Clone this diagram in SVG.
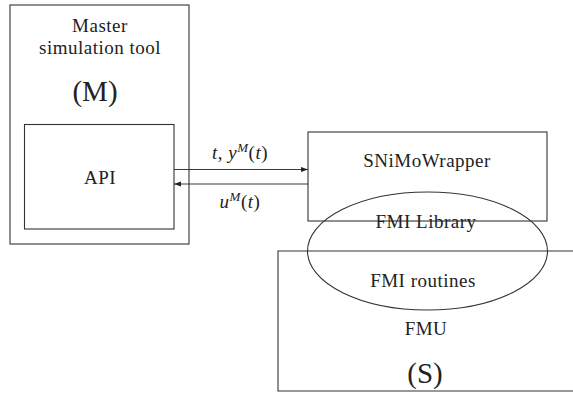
<svg xmlns="http://www.w3.org/2000/svg" width="573" height="401" viewBox="0 0 573 401">
<style>
.box{fill:none;stroke:#333;stroke-width:1.1}
.t{font-family:"Liberation Serif","Times New Roman",serif;font-size:19px;letter-spacing:0.5px;fill:#222;text-anchor:middle}
.big{font-size:29px;letter-spacing:0}
.i{font-style:italic}
.conn{stroke:#222;stroke-width:0.9;fill:none}
</style>
<defs>
<marker id="ah" markerWidth="8" markerHeight="6" refX="7" refY="3" orient="auto" markerUnits="userSpaceOnUse">
<path d="M0,0.5 L7,3 L0,5.5 Z" fill="#222"/>
</marker>
</defs>
<g id="master">
<rect class="box" x="10" y="5" width="179" height="239"/>
<text class="t" x="100" y="32">Master</text>
<text class="t" x="100" y="54">simulation tool</text>
<text class="t big" x="95" y="101">(M)</text>
</g>
<g id="api">
<rect class="box" x="24.5" y="124.5" width="149.5" height="104.5"/>
<text class="t" x="100" y="184">API</text>
</g>
<g id="fmu">
<path class="box" d="M573,251 H278 V391 H573"/>
<text class="t" x="426" y="335">FMU</text>
<text class="t big" x="425" y="383">(S)</text>
</g>
<g id="wrapper">
<rect class="box" x="308" y="132" width="239" height="89"/>
<text class="t" x="427" y="167">SNiMoWrapper</text>
</g>
<g id="fmilib">
<ellipse class="box" cx="427.5" cy="251" rx="120" ry="59"/>
<text class="t" x="426" y="228">FMI Library</text>
<text class="t" x="423" y="287">FMI routines</text>
</g>
<g id="connectors">
<line class="conn" x1="174" y1="169.5" x2="308" y2="169.5" marker-end="url(#ah)"/>
<line class="conn" x1="308" y1="184" x2="174" y2="184" marker-end="url(#ah)"/>
<text class="t" x="240" y="159"><tspan class="i">t</tspan>, <tspan class="i">y</tspan><tspan class="i" font-size="13" dy="-7">M</tspan><tspan dy="7">(</tspan><tspan class="i">t</tspan>)</text>
<text class="t" x="240" y="208"><tspan class="i">u</tspan><tspan class="i" font-size="13" dy="-7">M</tspan><tspan dy="7">(</tspan><tspan class="i">t</tspan>)</text>
</g>
</svg>
